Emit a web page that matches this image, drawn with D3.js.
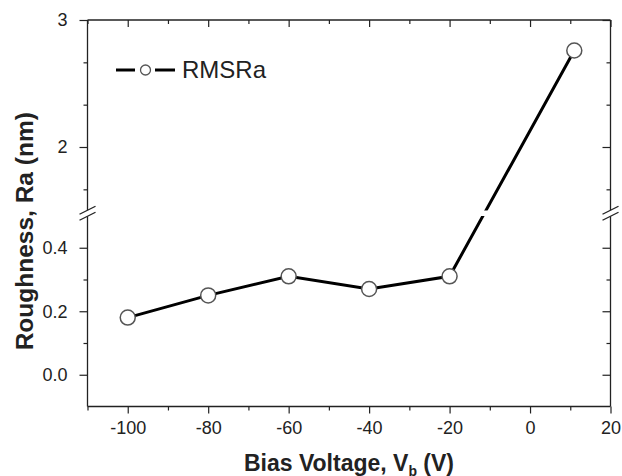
<!DOCTYPE html>
<html>
<head>
<meta charset="utf-8">
<script src="https://cdn.jsdelivr.net/npm/d3@7"></script>
<style>
  body { margin: 0; background: #fff; }
  svg { display: block; font-family: Arial, "Liberation Sans", sans-serif; }
</style>
</head>
<body>
<div id="chart"></div>
<script>
// data
const voltages = [-100, -80, -60, -40, -20, 11];
const roughness = [0.18, 0.25, 0.31, 0.27, 0.31, 2.76];
const xTicks = [-100, -80, -60, -40, -20, 0, 20];
const xMinorTicks = [-110, -90, -70, -50, -30, -10, 10];
const lowTicks = [0.0, 0.2, 0.4];
const lowMinor = [0.1, 0.3];
const highTicks = [2, 3];
const highMinor = [5 / 3, 7 / 3, 8 / 3];
const seriesName = "RMSRa";

const width = 622, height = 476;
const marginLeft = 87.5, marginRight = 11.5, marginTop = 20, marginBottom = 69.5;
const plotBottom = height - marginBottom;
const ink = "#222";

const x = d3.scaleLinear([-110, 20], [marginLeft, width - marginRight]);
// broken y axis: two linear pieces
const yLow = d3.scaleLinear([-0.1, 0.5], [plotBottom, 216]);
const yHigh = d3.scaleLinear([1.5, 3], [210.5, marginTop]);
const y = v => v <= 0.5 ? yLow(v) : yHigh(v);
const yBreak = (yLow.range()[1] + yHigh.range()[0]) / 2;

const svg = d3.select("#chart").append("svg")
    .attr("width", width)
    .attr("height", height)
    .attr("viewBox", [0, 0, width, height]);

function styleAxis(g) {
    g.selectAll(".domain").remove();
    g.selectAll("line").attr("stroke", ink).attr("stroke-width", 1.2);
    g.selectAll("text").attr("fill", ink).attr("font-size", 18);
}

// plain hyphen minus like the original figure
const intFmt = d => String(d);

// bottom axis (outward ticks)
svg.append("g")
    .attr("transform", `translate(0,${plotBottom})`)
    .call(d3.axisBottom(x).tickValues(xTicks).tickSize(7).tickPadding(8).tickFormat(intFmt))
    .call(styleAxis)
    .call(g => g.selectAll("text").attr("dy", "0.71em"));
svg.append("g")
    .attr("transform", `translate(0,${plotBottom})`)
    .call(d3.axisBottom(x).tickValues(xMinorTicks).tickSize(4).tickFormat(""))
    .call(styleAxis);

// top axis (inward ticks)
svg.append("g")
    .attr("transform", `translate(0,${marginTop})`)
    .call(d3.axisTop(x).tickValues(xTicks).tickSize(-7).tickFormat(""))
    .call(styleAxis);
svg.append("g")
    .attr("transform", `translate(0,${marginTop})`)
    .call(d3.axisTop(x).tickValues(xMinorTicks).tickSize(-4).tickFormat(""))
    .call(styleAxis);

// left axis, both pieces
for (const [scale, major, minor, fmt] of [[yLow, lowTicks, lowMinor, d3.format(".1f")], [yHigh, highTicks, highMinor, intFmt]]) {
    svg.append("g")
        .attr("transform", `translate(${marginLeft},0)`)
        .call(d3.axisLeft(scale).tickValues(major).tickSize(8).tickPadding(12).tickFormat(fmt))
        .call(styleAxis);
    svg.append("g")
        .attr("transform", `translate(${marginLeft},0)`)
        .call(d3.axisLeft(scale).tickValues(minor).tickSize(4).tickFormat(""))
        .call(styleAxis);
    svg.append("g")
        .attr("transform", `translate(${width - marginRight},0)`)
        .call(d3.axisRight(scale).tickValues(major).tickSize(-8).tickFormat(""))
        .call(styleAxis);
    svg.append("g")
        .attr("transform", `translate(${width - marginRight},0)`)
        .call(d3.axisRight(scale).tickValues(minor).tickSize(-4).tickFormat(""))
        .call(styleAxis);
}

// frame
const frame = svg.append("g").attr("stroke", ink).attr("stroke-width", 1.3).attr("fill", "none");
const xl = marginLeft, xr = width - marginRight;
frame.append("line").attr("x1", xl).attr("x2", xr).attr("y1", marginTop).attr("y2", marginTop);
frame.append("line").attr("x1", xl).attr("x2", xr).attr("y1", plotBottom).attr("y2", plotBottom);
for (const xx of [xl, xr]) {
    frame.append("line").attr("x1", xx).attr("x2", xx).attr("y1", marginTop).attr("y2", yBreak - 3);
    frame.append("line").attr("x1", xx).attr("x2", xx).attr("y1", yBreak + 3).attr("y2", plotBottom);
    // break marks
    for (const off of [-3, 3]) {
        frame.append("line")
            .attr("x1", xx - 8).attr("y1", yBreak + off + 4)
            .attr("x2", xx + 8).attr("y2", yBreak + off - 4);
    }
}

// data line, with a gap at the axis break
const pts = voltages.map((v, i) => [x(v), y(roughness[i])]);
svg.append("defs").append("clipPath").attr("id", "panels")
    .call(c => c.append("rect").attr("x", xl).attr("width", xr - xl)
        .attr("y", marginTop).attr("height", yHigh.range()[0] - marginTop))
    .call(c => c.append("rect").attr("x", xl).attr("width", xr - xl)
        .attr("y", yLow.range()[1]).attr("height", plotBottom - yLow.range()[1]));

svg.append("path")
    .attr("clip-path", "url(#panels)")
    .attr("d", d3.line()(pts))
    .attr("fill", "none")
    .attr("stroke", "#000")
    .attr("stroke-width", 3);

svg.append("g")
    .selectAll("circle")
    .data(pts)
    .join("circle")
    .attr("cx", d => d[0])
    .attr("cy", d => d[1])
    .attr("r", 7.5)
    .attr("fill", "#fff")
    .attr("stroke", "#555")
    .attr("stroke-width", 1.5);

// legend
const legend = svg.append("g").attr("transform", "translate(116,70)");
legend.append("line").attr("x1", 0).attr("x2", 19).attr("stroke", "#000").attr("stroke-width", 3);
legend.append("line").attr("x1", 39).attr("x2", 59).attr("stroke", "#000").attr("stroke-width", 3);
legend.append("circle").attr("cx", 29.5).attr("r", 5).attr("fill", "#fff").attr("stroke", "#555").attr("stroke-width", 1.3);
legend.append("text").attr("x", 66).attr("dy", "0.35em")
    .attr("font-size", 24).attr("fill", ink).text(seriesName);

// axis titles
svg.append("text")
    .attr("x", 349)
    .attr("y", 471)
    .attr("text-anchor", "middle")
    .attr("font-size", 23)
    .attr("font-weight", "bold")
    .attr("fill", ink)
    .call(t => {
        t.append("tspan").text("Bias Voltage, V");
        t.append("tspan").attr("font-size", 14).attr("dy", 5).text("b");
        t.append("tspan").attr("dy", -5).text(" (V)");
    });

svg.append("text")
    .attr("transform", `translate(24,${(marginTop + plotBottom) / 2 + 18}) rotate(-90)`)
    .attr("dy", "0.35em")
    .attr("text-anchor", "middle")
    .attr("font-size", 24.5)
    .attr("font-weight", "bold")
    .attr("fill", ink)
    .text("Roughness, Ra (nm)");
</script>
</body>
</html>
